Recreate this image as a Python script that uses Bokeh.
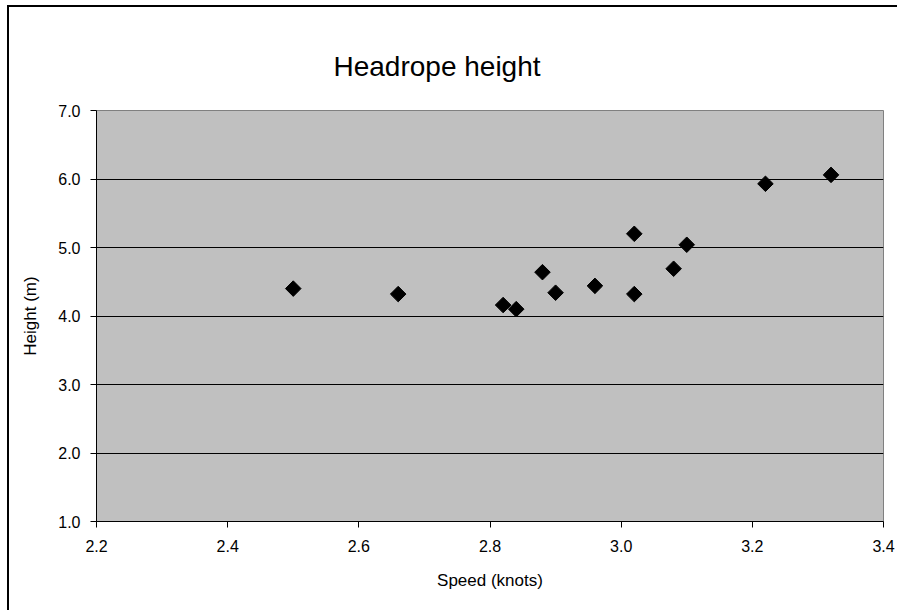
import numpy as np
from bokeh.plotting import figure
from bokeh.models import Range1d, FixedTicker, CustomJSTickFormatter
from bokeh.embed import file_html
from bokeh.resources import INLINE

# Trawl headrope height against towing speed
speed_knots = [2.50, 2.66, 2.82, 2.84, 2.88, 2.90, 2.96, 3.02, 3.02, 3.08, 3.10, 3.22, 3.32]
height_m = [4.40, 4.32, 4.16, 4.10, 4.64, 4.34, 4.44, 5.20, 4.32, 4.69, 5.04, 5.93, 6.06]

x_ticks = [2.2, 2.4, 2.6, 2.8, 3.0, 3.2, 3.4]
y_ticks = [1.0, 2.0, 3.0, 4.0, 5.0, 6.0, 7.0]

FONT = "Liberation Sans"

p = figure(
    width=888, height=603,
    output_backend="svg", toolbar_location=None,
    x_range=Range1d(2.2, 3.4), y_range=Range1d(1.0, 7.0),
    min_border_left=87, min_border_right=14,
    min_border_top=103, min_border_bottom=89,
    background_fill_color="#C0C0C0",
    border_fill_color="white",
    title="Headrope height",
)
# outer chart border: a spread shadow whose right and bottom edges fall past the page
p.styles = {
    "margin-left": "9px", "margin-top": "7px",
    "box-shadow": "1px 1px 0px 3px black",
}

p.outline_line_color = "#808080"
p.outline_line_width = 1

p.title.text_font = FONT
p.title.text_font_size = "28px"
p.title.text_font_style = "normal"
p.title.text_color = "black"
p.title.align = "left"
p.title.offset = 237
p.title.standoff = 57

# axes
for ax in (p.xaxis[0], p.yaxis[0]):
    ax.axis_line_color = "black"
    ax.major_tick_line_color = "black"
    ax.major_tick_out = 6
    ax.major_tick_in = 0
    ax.minor_tick_line_color = None
    ax.major_label_text_font = FONT
    ax.major_label_text_font_size = "16px"
    ax.major_label_text_color = "black"
    ax.axis_label_text_font = FONT
    ax.axis_label_text_font_size = "17px"
    ax.axis_label_text_font_style = "normal"
    ax.axis_label_text_color = "black"

p.xaxis.ticker = FixedTicker(ticks=x_ticks)
p.yaxis.ticker = FixedTicker(ticks=y_ticks)
p.xaxis.formatter = CustomJSTickFormatter(code="return tick.toFixed(1);")
p.yaxis.formatter = CustomJSTickFormatter(code="return tick.toFixed(1);")
p.xaxis.major_label_standoff = 12
p.yaxis.major_label_standoff = 10
p.xaxis.axis_label = "Speed (knots)"
p.yaxis.axis_label = "Height (m)"
p.xaxis.axis_label_standoff = 16
p.yaxis.axis_label_standoff = 15

# horizontal gridlines only
p.xgrid.grid_line_color = None
p.ygrid.ticker = FixedTicker(ticks=y_ticks[1:-1])
p.ygrid.grid_line_color = "black"
p.ygrid.grid_line_width = 1

# data points as diamonds
p.scatter(speed_knots, height_m, marker="square", angle=np.pi / 4,
          size=11, fill_color="black", line_color="black")

open("out.html", "w").write(file_html(p, INLINE))
